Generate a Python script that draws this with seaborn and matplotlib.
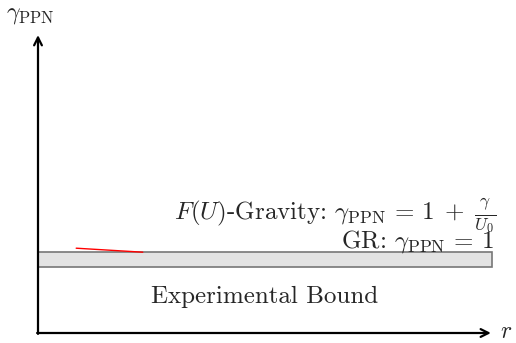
import matplotlib
matplotlib.use("Agg")
import matplotlib.pyplot as plt
import seaborn as sns
import pandas as pd
from matplotlib.patches import Rectangle

# schematic values (axis units)
r_axis_end = 10.2
g_axis_end = 6.71
bound_x = [0.0, 10.22]
bound_y = [1.49, 1.82]
fu_r = [0.86, 2.36]
fu_gamma = [1.91, 1.82]

sns.set_style("white")
plt.rcParams["mathtext.fontset"] = "cm"
plt.rcParams["font.family"] = ["cmr10"]
plt.rcParams["axes.formatter.use_mathtext"] = True

fig = plt.figure(figsize=(5.16, 3.43), dpi=100)
# axes fill the figure; origin of the sketch at pixel (38, 333)
unit = 44.4
ax = fig.add_axes([0, 0, 1, 1])
ax.set_xlim(-38 / unit, (516 - 38) / unit)
ax.set_ylim(-(343 - 333) / unit, 333 / unit)
ax.axis("off")

# experimental bound band
ax.add_patch(Rectangle((bound_x[0], bound_y[0]), bound_x[1] - bound_x[0],
                       bound_y[1] - bound_y[0], facecolor="#e3e3e3",
                       edgecolor="#777777", lw=1.2, zorder=1))

# F(U) gravity curve
df = pd.DataFrame({"r": fu_r, "gamma": fu_gamma})
sns.lineplot(data=df, x="r", y="gamma", color="red", lw=1.0, ax=ax, zorder=3)

# axes with arrows
arrow = dict(arrowstyle="->", lw=1.6, color="black", mutation_scale=14,
             shrinkA=0, shrinkB=0)
ax.annotate("", xy=(r_axis_end, 0), xytext=(-0.02, 0), arrowprops=arrow, zorder=4)
ax.annotate("", xy=(0, g_axis_end), xytext=(0, -0.02), arrowprops=arrow, zorder=4)

ax.text(10.41, 0.02, r"$r$", fontsize=17, va="center", ha="left")
ax.text(-0.18, 7.16, r"$\gamma_{\mathrm{PPN}}$", fontsize=17,
        va="center", ha="center")

fs = 18
ax.text(5.11, 0.81, "Experimental Bound", fontsize=fs,
        ha="center", va="center")
ax.text(10.31, 2.64,
        r"$F(U)$-Gravity: $\gamma_{\mathrm{PPN}} \,=\, 1 \;+\; \frac{\gamma}{U_0}$",
        fontsize=fs, ha="right", va="center")
ax.text(10.26, 2.05, r"GR: $\gamma_{\mathrm{PPN}} \,=\, 1$",
        fontsize=fs, ha="right", va="center")

fig.savefig("out.png", dpi=100)
